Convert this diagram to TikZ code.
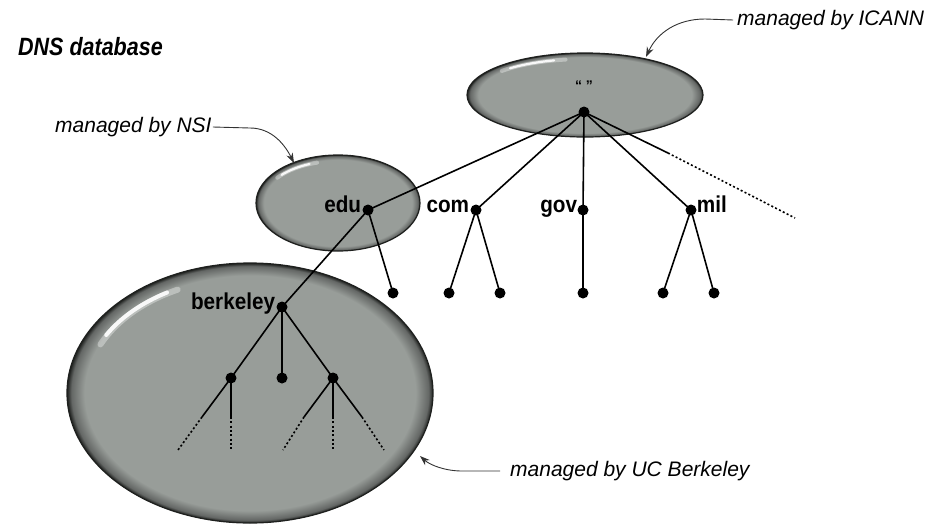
\documentclass[tikz,border=0pt]{standalone}
\usepackage{fontspec}
\setmainfont{Liberation Sans}
\newfontfamily\labelfont{Liberation Sans}[FakeStretch=0.9]
\newfontfamily\titlefont{Liberation Sans}[FakeStretch=0.86]
\usetikzlibrary{arrows.meta,calc}
\definecolor{zonegray}{RGB}{152,157,153}
\definecolor{zonedark}{RGB}{100,103,101}
\definecolor{rimgray}{RGB}{30,32,30}
\pgfdeclareradialshading{zoneshade}{\pgfpoint{0bp}{0bp}}{color(0bp)=(zonegray); color(22.6bp)=(zonegray); color(24.4bp)=(zonedark); color(25bp)=(rimgray); color(50bp)=(rimgray)}
\tikzset{
  dotnode/.style={circle, fill=black, inner sep=0pt, minimum size=11pt},
  lbl/.style={font=\labelfont\fontsize{23}{26}\selectfont\bfseries, inner sep=0pt},
  note/.style={font=\fontsize{21}{24}\selectfont\itshape, inner sep=0pt},
  zone/.style={shading=zoneshade},
  zonerim/.style={draw=rimgray, line width=1.2pt},
  gloss/.style={white, line width=3pt, line cap=round, opacity=0.9},
  softgloss/.style={white, line width=6pt, line cap=round, opacity=0.35},
  edge/.style={line width=1.6pt},
  trail/.style={line width=1.6pt, dash pattern=on 2pt off 2.3pt},
  pointer/.style={line width=0.9pt, draw=black!80, -{Stealth[length=10pt,width=7pt]}}
}
\begin{document}
\begin{tikzpicture}[x=1pt,y=-1pt]
\useasboundingbox (0,0) rectangle (937,528);
% zones
\begin{scope}
\clip (0,0) rectangle (937,528);
\shade[zone] (250,393) ellipse [x radius=183, y radius=130];
\draw[zonerim] (250,393) ellipse [x radius=183, y radius=130];
\end{scope}
\draw[softgloss] ($(250,393)+(-155:165 and 115)$) arc[start angle=-155, end angle=-116, x radius=165, y radius=115];
\draw[gloss, line width=4pt] ($(250,393)+(-150:166 and 116)$) arc[start angle=-150, end angle=-120, x radius=166, y radius=116];
\shade[zone] (338,203) ellipse [x radius=82, y radius=48];
\draw[zonerim] (338,203) ellipse [x radius=82, y radius=48];
\draw[softgloss, line width=4pt] ($(338,203)+(-143:76 and 42)$) arc[start angle=-143, end angle=-106, x radius=76, y radius=42];
\draw[gloss, line width=2.2pt] ($(338,203)+(-138:76 and 42)$) arc[start angle=-138, end angle=-112, x radius=76, y radius=42];
\shade[zone] (585,95) ellipse [x radius=118, y radius=42];
\draw[zonerim] (585,95) ellipse [x radius=118, y radius=42];
\draw[softgloss, line width=4pt] ($(585,95)+(-138:112 and 36)$) arc[start angle=-138, end angle=-100, x radius=112, y radius=36];
\draw[gloss, line width=2.2pt] ($(585,95)+(-132:112 and 36)$) arc[start angle=-132, end angle=-106, x radius=112, y radius=36];

% nodes
\node[dotnode] (root) at (584,112) {};
\node[font=\fontsize{14}{16}\selectfont\bfseries, inner sep=0pt] (rootlbl) at (584,86) {“ ”};
\node[dotnode] (edu) at (368,210) {};
\node[dotnode] (com) at (476,210) {};
\node[dotnode] (gov) at (583,210) {};
\node[dotnode] (mil) at (691,210) {};
\coordinate (more) at (795,218);
\coordinate (moremid) at (668,153);
\node[lbl, anchor=mid east] (edulbl) at ([xshift=-1pt]edu.west) {edu};
\node[lbl, anchor=mid east] (comlbl) at ([xshift=-1pt]com.west) {com};
\node[lbl, anchor=mid east] (govlbl) at ([xshift=0pt]gov.west) {gov};
\node[lbl, anchor=mid west] (millbl) at ([xshift=0pt]mil.east) {mil};

\node[dotnode] (e1) at (393,293) {};
\node[dotnode] (c1) at (449,293) {};
\node[dotnode] (c2) at (500,293) {};
\node[dotnode] (g1) at (583,293) {};
\node[dotnode] (m1) at (663,293) {};
\node[dotnode] (m2) at (714,293) {};

\node[dotnode] (berk) at (282,307) {};
\node[lbl, anchor=mid east] (berklbl) at ([xshift=-1pt]berk.west) {berkeley};
\node[dotnode] (b1) at (231,378) {};
\node[dotnode] (b2) at (282,378) {};
\node[dotnode] (b3) at (333,378) {};

\coordinate (b1s1) at (202,417); \coordinate (b1e1) at (178,450);
\coordinate (b1s2) at (231,417); \coordinate (b1e2) at (231,450);
\coordinate (b3s1) at (304,417); \coordinate (b3e1) at (283,450);
\coordinate (b3s2) at (333,417); \coordinate (b3e2) at (333,450);
\coordinate (b3s3) at (362,417); \coordinate (b3e3) at (384,450);

% edges
\draw[edge] (root.center) -- (edu.center);
\draw[edge] (root.center) -- (com.center);
\draw[edge] (root.center) -- (gov.center);
\draw[edge] (root.center) -- (mil.center);
\draw[edge] (root.center) -- (moremid);
\draw[trail] (moremid) -- (more);
\draw[edge] (edu.center) -- (e1.center);
\draw[edge] (edu.center) -- (berk.center);
\draw[edge] (com.center) -- (c1.center);
\draw[edge] (com.center) -- (c2.center);
\draw[edge] (gov.center) -- (g1.center);
\draw[edge] (mil.center) -- (m1.center);
\draw[edge] (mil.center) -- (m2.center);
\draw[edge] (berk.center) -- (b1.center);
\draw[edge] (berk.center) -- (b2.center);
\draw[edge] (berk.center) -- (b3.center);
\draw[edge] (b1.center) -- (b1s1); \draw[trail] (b1s1) -- (b1e1);
\draw[edge] (b1.center) -- (b1s2); \draw[trail] (b1s2) -- (b1e2);
\draw[edge] (b3.center) -- (b3s1); \draw[trail] (b3s1) -- (b3e1);
\draw[edge] (b3.center) -- (b3s2); \draw[trail] (b3s2) -- (b3e2);
\draw[edge] (b3.center) -- (b3s3); \draw[trail] (b3s3) -- (b3e3);

% titles and notes
\node[font=\titlefont\fontsize{25}{28}\selectfont\bfseries\itshape, inner sep=0pt, anchor=west] (title) at (18,47) {DNS database};
\node[note, anchor=west] (icann) at (737,20) {managed by ICANN};
\node[note, anchor=west] (nsi) at (55,127) {managed by NSI};
\node[note, anchor=west] (ucb) at (510,471) {managed by UC Berkeley};
\coordinate (icanntip) at (646,57);
\coordinate (nsitip) at (294,163);
\coordinate (ucbtip) at (420,456);
\draw[pointer] ([xshift=-4pt]icann.west) -- (705,19) .. controls (677,19) and (657,33) .. (icanntip);
\draw[pointer] ([xshift=1pt]nsi.east) -- (250,128) .. controls (272,128) and (285,145) .. (nsitip);
\draw[pointer] ([xshift=-10pt]ucb.west) -- (462,471) .. controls (445,471) and (430,465) .. (ucbtip);
\end{tikzpicture}
\end{document}
